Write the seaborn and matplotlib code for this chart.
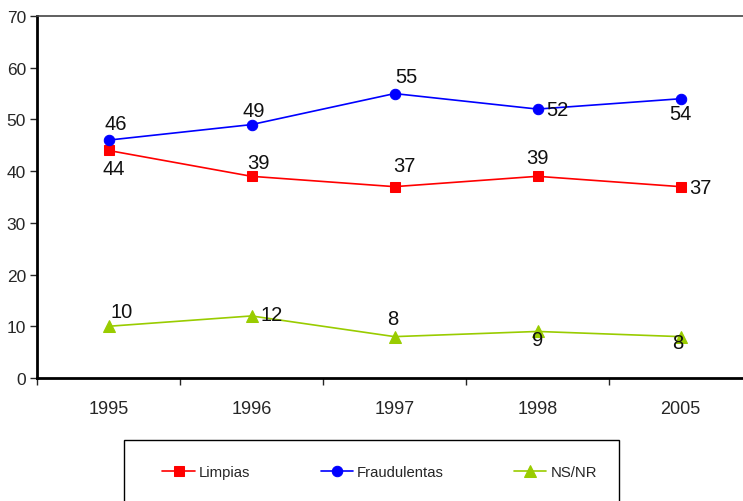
# Grafico de lineas: percepcion de las elecciones
import matplotlib.pyplot as plt
import matplotlib.patches as mpatches
import seaborn as sns
import pandas as pd

sns.set_style("white")
plt.rcParams['font.family'] = ['Liberation Sans', 'DejaVu Sans']

# Datos
anios = ['1995', '1996', '1997', '1998', '2005']
limpias = [44, 39, 37, 39, 37]
fraudulentas = [46, 49, 55, 52, 54]
ns_nr = [10, 12, 8, 9, 8]

series = ['Limpias', 'Fraudulentas', 'NS/NR']
colores = ['#FF0000', '#0000FF', '#99CC00']
marcadores = ['s', 'o', '^']
tamanos = [7, 7.5, 8]

df = pd.DataFrame({
    'pos': list(range(len(anios))) * 3,
    'valor': limpias + fraudulentas + ns_nr,
    'serie': [s for s in series for _ in anios],
})

# posicion de las etiquetas (pixeles respecto al punto)
offsets = {
    'Limpias': [(5, -18), (7, 14), (10, 21), (0, 19), (20, -1)],
    'Fraudulentas': [(7, 17), (2, 14), (12, 17), (20, 0), (0, -15)],
    'NS/NR': [(13, 15), (20, 1), (-2, 18), (0, -8), (-3, -6)],
}

fig = plt.figure(figsize=(7.43, 5.02), dpi=100)
ax = fig.add_axes([37 / 743, 123 / 502, 715 / 743, 362 / 502])

for s, c, m, ms in zip(series, colores, marcadores, tamanos):
    sub = df[df['serie'] == s]
    sns.lineplot(data=sub, x='pos', y='valor', color=c, marker=m, markersize=ms,
                 markeredgecolor=c, linewidth=1.2, label=s, ax=ax)
    for (x, y), off in zip(zip(sub['pos'], sub['valor']), offsets[s]):
        ax.annotate(str(y), (x, y), xytext=off, textcoords='offset pixels',
                    ha='center', va='center', fontsize=14.5, color='#111111')

ax.set_xlim(-0.5, len(anios) - 0.5)
ax.set_ylim(0, 70)
ax.set_yticks(range(0, 71, 10))
ax.set_xticks([i - 0.5 for i in range(len(anios) + 1)])
ax.set_xticklabels([])
ax.set_xticks(range(len(anios)), minor=True)
ax.set_xticklabels(anios, minor=True)
ax.tick_params(axis='x', which='major', length=5, width=1, direction='out', bottom=True)
ax.tick_params(axis='x', which='minor', length=0, pad=16, labelsize=13)
ax.tick_params(axis='y', length=5, width=1, direction='out', left=True, pad=3, labelsize=12.5)
ax.set_xlabel('')
ax.set_ylabel('')

for side in ['left', 'bottom']:
    ax.spines[side].set_color('black')
    ax.spines[side].set_linewidth(2)
ax.spines['top'].set_color('#444444')
ax.spines['top'].set_linewidth(1.2)
ax.spines['right'].set_visible(False)

ax.get_legend().remove()
handles, labels = ax.get_legend_handles_labels()
fig.legend(handles, labels, ncol=3, frameon=False, fontsize=10.75,
           loc='center left', bbox_to_anchor=(155 / 743, 1 - 473 / 502),
           borderpad=0, handlelength=2.15, handletextpad=0.3, columnspacing=4.7)

caja = mpatches.Rectangle((124 / 743, -0.1), 495 / 743, 0.1 + 61 / 502,
                          transform=fig.transFigure, fill=False,
                          edgecolor='black', linewidth=1)
fig.patches.append(caja)

fig.savefig('out.png', dpi=100)
